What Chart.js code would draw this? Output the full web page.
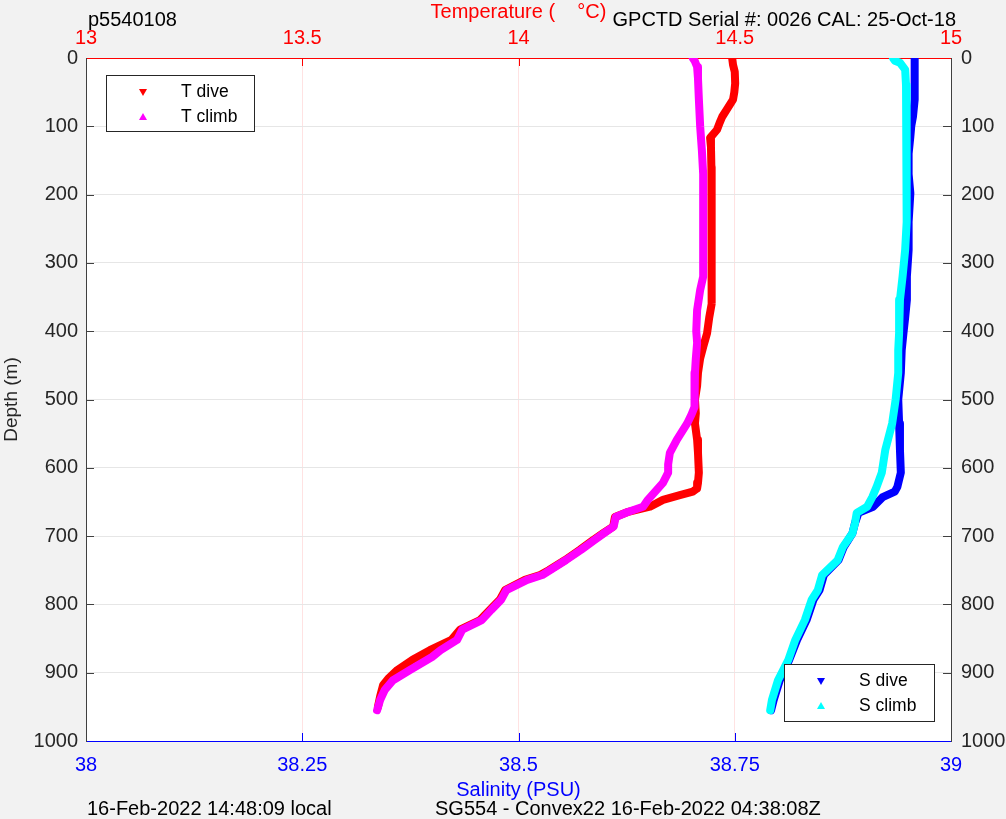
<!DOCTYPE html>
<html>
<head>
<meta charset="utf-8">
<script src="https://cdn.jsdelivr.net/npm/chart.js@4.4.1/dist/chart.umd.min.js"></script>
<style>
  html, body { margin: 0; padding: 0; background: #f2f2f2; }
  #wrap { width: 1006px; height: 819px; }
</style>
</head>
<body>
<div id="wrap"><canvas id="perfil" width="1006" height="819"></canvas></div>
<script>
// profundidades (m) y valores
const profTDive = [0, 10, 20, 37, 50, 61, 73, 86, 95, 105, 117, 130, 160, 200, 250, 300, 330, 360, 380, 403, 423, 440, 461, 480, 500, 520, 535, 559, 578, 607, 622, 630, 635, 640, 647, 657, 665, 672, 686, 696, 706, 720, 735, 750, 757, 764, 779, 793, 808, 823, 837, 852, 867, 881, 896, 908, 918, 935, 950];
const tempDive = [14.494, 14.496, 14.500, 14.501, 14.499, 14.496, 14.484, 14.471, 14.465, 14.459, 14.443, 14.445, 14.446, 14.447, 14.447, 14.446, 14.447, 14.446, 14.441, 14.436, 14.427, 14.420, 14.415, 14.413, 14.408, 14.410, 14.408, 14.413, 14.415, 14.417, 14.415, 14.413, 14.403, 14.373, 14.334, 14.304, 14.251, 14.223, 14.219, 14.195, 14.172, 14.142, 14.108, 14.070, 14.050, 14.015, 13.969, 13.957, 13.934, 13.911, 13.865, 13.845, 13.795, 13.755, 13.720, 13.700, 13.687, 13.680, 13.675];

const profTClimb = [0, 5, 13, 30, 60, 100, 135, 170, 198, 256, 320, 340, 369, 400, 417, 440, 461, 490, 511, 522, 535, 559, 578, 595, 607, 622, 635, 647, 657, 665, 672, 686, 696, 706, 720, 735, 757, 764, 779, 793, 808, 823, 837, 852, 867, 877, 896, 911, 925, 940, 955];
const tempClimb = [14.403, 14.408, 14.413, 14.415, 14.417, 14.420, 14.424, 14.427, 14.427, 14.427, 14.427, 14.420, 14.413, 14.411, 14.413, 14.410, 14.408, 14.406, 14.408, 14.400, 14.390, 14.366, 14.350, 14.346, 14.346, 14.334, 14.316, 14.299, 14.288, 14.251, 14.225, 14.220, 14.197, 14.175, 14.145, 14.110, 14.055, 14.020, 13.972, 13.960, 13.937, 13.915, 13.870, 13.858, 13.820, 13.800, 13.749, 13.710, 13.691, 13.680, 13.673];

const profSDive = [0, 30, 61, 86, 100, 115, 140, 170, 198, 240, 281, 320, 354, 380, 403, 428, 461, 500, 535, 574, 607, 628, 635, 643, 657, 666, 681, 696, 716, 735, 757, 779, 793, 823, 852, 881, 911, 940, 955];
const salDive = [38.958, 38.958, 38.958, 38.956, 38.954, 38.953, 38.951, 38.951, 38.953, 38.951, 38.951, 38.949, 38.949, 38.947, 38.945, 38.943, 38.942, 38.939, 38.940, 38.941, 38.942, 38.938, 38.935, 38.921, 38.910, 38.893, 38.889, 38.886, 38.876, 38.870, 38.853, 38.848, 38.841, 38.833, 38.822, 38.813, 38.802, 38.795, 38.792];

const profSClimb = [0, 4, 7, 17, 40, 86, 140, 198, 240, 281, 320, 354, 403, 428, 461, 500, 535, 574, 607, 628, 643, 657, 666, 681, 696, 716, 735, 757, 779, 793, 823, 852, 881, 911, 940, 955];
const salClimb = [38.933, 38.935, 38.941, 38.947, 38.948, 38.949, 38.949, 38.949, 38.948, 38.947, 38.944, 38.941, 38.940, 38.939, 38.939, 38.936, 38.932, 38.924, 38.920, 38.914, 38.909, 38.903, 38.891, 38.889, 38.886, 38.875, 38.869, 38.851, 38.846, 38.839, 38.831, 38.820, 38.812, 38.800, 38.793, 38.791];

const ticksTemp = [13, 13.5, 14, 14.5, 15];
const ticksSal = [38, 38.25, 38.5, 38.75, 39];
const ticksProf = [0, 100, 200, 300, 400, 500, 600, 700, 800, 900, 1000];

const FUENTE = '"Liberation Sans", Arial, sans-serif';
const TAM = 20;

function puntos(valores, prof) {
    return valores.map((v, i) => ({ x: v, y: prof[i] }));
}

function serie(label, valores, prof, color, eje, orden) {
    return {
        label,
        data: puntos(valores, prof),
        xAxisID: eje,
        yAxisID: 'y',
        showLine: true,
        borderColor: color,
        backgroundColor: color,
        borderWidth: 8,
        borderJoinStyle: 'round',
        borderCapStyle: 'round',
        pointRadius: 0,
        tension: 0,
        order: orden
    };
}

// fondo gris, area blanca, textos extra, leyendas y marcas de eje
const extras = {
    id: 'extras',
    beforeDraw(chart) {
        const c = chart.ctx, a = chart.chartArea;
        c.save();
        c.fillStyle = '#f2f2f2';
        c.fillRect(0, 0, chart.width, chart.height);
        c.fillStyle = '#ffffff';
        c.fillRect(a.left, a.top, a.right - a.left, a.bottom - a.top);
        c.restore();
    },
    afterDraw(chart) {
        const c = chart.ctx, a = chart.chartArea, s = chart.scales;
        c.save();
        c.lineWidth = 1;
        // marcas hacia adentro
        ticksTemp.slice(1, -1).forEach(v => {
            const x = Math.round(s.xT.getPixelForValue(v)) + 0.5;
            c.strokeStyle = '#ff0000';
            c.beginPath(); c.moveTo(x, a.top); c.lineTo(x, a.top + 8); c.stroke();
        });
        ticksSal.slice(1, -1).forEach(v => {
            const x = Math.round(s.xS.getPixelForValue(v)) + 0.5;
            c.strokeStyle = '#0000ff';
            c.beginPath(); c.moveTo(x, a.bottom); c.lineTo(x, a.bottom - 8); c.stroke();
        });
        ticksProf.slice(1, -1).forEach(v => {
            const y = Math.round(s.y.getPixelForValue(v)) + 0.5;
            c.strokeStyle = '#404040';
            c.beginPath(); c.moveTo(a.left, y); c.lineTo(a.left + 8, y); c.stroke();
            c.beginPath(); c.moveTo(a.right, y); c.lineTo(a.right - 8, y); c.stroke();
        });

        // textos
        c.fillStyle = '#000000';
        c.font = TAM + 'px ' + FUENTE;
        c.textBaseline = 'middle';
        c.textAlign = 'left';
        c.fillText('p5540108', 88, 20);
        c.textAlign = 'right';
        c.fillText('GPCTD Serial #: 0026 CAL: 25-Oct-18', 956, 20);
        c.textAlign = 'left';
        c.fillText('16-Feb-2022 14:48:09 local', 87, 809);
        c.fillText('SG554 - Convex22 16-Feb-2022 04:38:08Z', 435, 809);

        // leyendas
        const leyenda = (x, y, w, h, items) => {
            c.fillStyle = '#ffffff';
            c.fillRect(x, y, w, h);
            c.strokeStyle = '#262626';
            c.strokeRect(x + 0.5, y + 0.5, w, h);
            items.forEach((it, i) => {
                const my = y + 17 + i * 25;
                const mx = x + 37;
                c.fillStyle = it.color;
                c.beginPath();
                if (it.abajo) {
                    c.moveTo(mx - 4, my - 3); c.lineTo(mx + 4, my - 3); c.lineTo(mx, my + 4);
                } else {
                    c.moveTo(mx - 4, my + 3); c.lineTo(mx + 4, my + 3); c.lineTo(mx, my - 4);
                }
                c.closePath(); c.fill();
                c.fillStyle = '#000000';
                c.font = '17.5px ' + FUENTE;
                c.textAlign = 'left';
                c.fillText(it.texto, x + 75, my);
            });
        };
        leyenda(106, 75, 148, 56, [
            { texto: 'T dive', color: '#ff0000', abajo: true },
            { texto: 'T climb', color: '#ff00ff', abajo: false }
        ]);
        leyenda(784, 664, 150, 57, [
            { texto: 'S dive', color: '#0000ff', abajo: true },
            { texto: 'S climb', color: '#00ffff', abajo: false }
        ]);
        c.restore();
    }
};

const fmt = v => String(+Number(v).toFixed(2));

new Chart(document.getElementById('perfil').getContext('2d'), {
    type: 'scatter',
    data: {
        datasets: [
            serie('T dive', tempDive, profTDive, '#ff0000', 'xT', 2),
            serie('S dive', salDive, profSDive, '#0000ff', 'xS', 2),
            serie('T climb', tempClimb, profTClimb, '#ff00ff', 'xT', 1),
            serie('S climb', salClimb, profSClimb, '#00ffff', 'xS', 1)
        ]
    },
    plugins: [extras],
    options: {
        responsive: false,
        animation: false,
        layout: { padding: 0 },
        plugins: {
            legend: { display: false },
            tooltip: { enabled: false }
        },
        scales: {
            xT: {
                type: 'linear',
                position: 'top',
                min: 13, max: 15,
                afterBuildTicks: sc => { sc.ticks = ticksTemp.map(v => ({ value: v })); },
                afterFit: sc => { sc.height = 58; },
                ticks: { color: '#ff0000', font: { family: FUENTE, size: TAM }, padding: 8, callback: fmt, maxRotation: 0 },
                grid: { color: '#ffe2e2', drawTicks: false },
                border: { color: '#ff0000' },
                title: { display: true, text: 'Temperature (    °C)', color: '#ff0000', font: { family: FUENTE, size: TAM }, padding: { top: 0, bottom: 0 } }
            },
            xS: {
                type: 'linear',
                position: 'bottom',
                min: 38, max: 39,
                afterBuildTicks: sc => { sc.ticks = ticksSal.map(v => ({ value: v })); },
                afterFit: sc => { sc.height = 78; },
                ticks: { color: '#0000ff', font: { family: FUENTE, size: TAM }, padding: 12, callback: fmt, maxRotation: 0 },
                grid: { display: false, drawTicks: false },
                border: { color: '#0000ff' },
                title: { display: true, text: 'Salinity (PSU)', color: '#0000ff', font: { family: FUENTE, size: TAM }, padding: { top: 0, bottom: 17 } }
            },
            y: {
                type: 'linear',
                position: 'left',
                reverse: true,
                min: 0, max: 1000,
                afterBuildTicks: sc => { sc.ticks = ticksProf.map(v => ({ value: v })); },
                afterFit: sc => { sc.width = 86; },
                ticks: { color: '#262626', font: { family: FUENTE, size: TAM }, padding: 8, callback: v => String(v) },
                grid: { color: '#e6e6e6', drawTicks: false },
                border: { color: '#404040' },
                title: { display: true, text: 'Depth (m)', color: '#262626', font: { family: FUENTE, size: 19 }, padding: { top: 0, bottom: 0 } }
            },
            yR: {
                type: 'linear',
                position: 'right',
                reverse: true,
                min: 0, max: 1000,
                afterBuildTicks: sc => { sc.ticks = ticksProf.map(v => ({ value: v })); },
                afterFit: sc => { sc.width = 55; },
                ticks: { color: '#262626', font: { family: FUENTE, size: TAM }, padding: 10, callback: v => String(v) },
                grid: { display: false, drawTicks: false },
                border: { color: '#404040' }
            }
        }
    }
});
</script>
</body>
</html>
